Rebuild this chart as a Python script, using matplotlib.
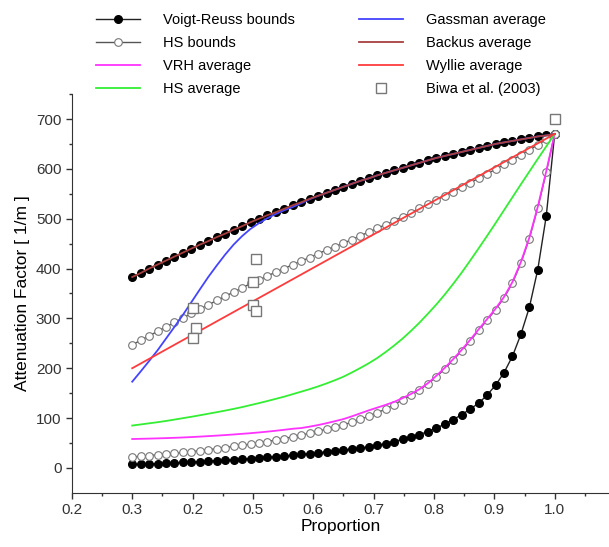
import numpy as np
import matplotlib.pyplot as plt

plt.rcParams['font.family'] = ['Liberation Sans', 'DejaVu Sans']

# proportion grid used by every curve (51 samples from 0.3 to 1.0)
x = np.linspace(0.3, 1.0, 51)

voigt = [383, 391, 400, 408, 416, 424, 432, 440, 448, 455, 463, 470, 478, 485, 493,
         500, 507, 513, 520, 527, 533, 540, 546, 552, 558, 564, 570, 576, 581, 587,
         592, 597, 602, 607, 612, 617, 622, 626, 630, 634, 638, 642, 646, 650, 653,
         656, 659, 662, 665, 667, 670]
reuss = [7, 7.5, 8, 8.7, 9.3, 10, 11, 12, 12.8, 13.6, 14.5, 15.5, 16.5, 17.6, 18.8,
         20, 21.2, 22.5, 24, 25.5, 27, 28.7, 30.5, 32.3, 34.2, 36, 38, 40, 42.5, 45.5,
         49, 53, 57.5, 62, 67, 73, 80, 88, 97, 107, 118, 130, 146, 166, 191,
         224, 268, 322, 398, 505, 670]
hs_upper = [247, 256, 265, 274, 283, 292, 301, 310, 319, 327, 336, 344, 353, 361, 370,
            377, 385, 393, 400, 408, 415, 422, 430, 437, 444, 451, 458, 466, 473, 481,
            488, 496, 504, 512, 521, 529, 537, 546, 554, 563, 572, 581, 590, 599, 609,
            618, 628, 638, 648, 659, 670]
hs_lower = [22, 23.4, 24.9, 26.3, 27.8, 29.4, 31, 32.7, 34.5, 36.6, 38.7, 40.9, 43.2, 45.5, 47.8,
            50.2, 53, 55.9, 59, 62.3, 65.9, 69.6, 73.6, 77.8, 82.2, 86.6, 91.5, 97.4, 103.7, 110.8,
            118, 127, 136.5, 146, 156.6, 168.6, 182.5, 199, 216.5, 235, 255, 276, 296.5, 317.5, 341,
            371, 411, 460, 522, 593, 670]
vrh = [58, 58.4, 58.8, 59.3, 59.8, 60.4, 61.1, 61.9, 62.8, 63.8, 64.8, 65.9, 67.1, 68.4, 69.7,
       71.2, 72.8, 74.6, 76.5, 78.6, 80, 82.8, 86, 89.7, 93.8, 98, 103.5, 109.5, 115.5, 121,
       126.5, 132.5, 140, 148.5, 158, 170, 185, 201, 218.5, 237, 257, 278, 298.5, 319.5, 343,
       373, 413, 462, 524, 595, 670]
hs_avg = [85, 87.2, 89.5, 91.7, 94.2, 97, 99.8, 102.6, 105.6, 108.7, 111.8, 115, 118.4, 122, 126,
          130, 134.2, 138.6, 143, 148, 153, 158, 163.5, 169.5, 176, 183, 191.5, 200.5, 210, 220.5,
          232.5, 245.5, 259.5, 275, 291.5, 309.5, 328, 348, 369.5, 392, 416, 440.5, 465.5, 491, 517,
          543, 569, 594.5, 620, 645, 670]
gassman = [173, 193.5, 214.5, 236, 259.5, 283, 307, 332.5, 358, 383, 406, 428, 448, 465, 479.5,
           491, 501, 509.5, 517, 523.5, 531, 539, 546, 552, 558, 564, 570, 576, 581, 587,
           592, 597, 602, 607, 612, 617, 622, 626, 630, 634, 638, 642, 646, 650, 653,
           656, 659, 662, 665, 667, 670]
backus = voigt
wyllie_x = [0.3, 1.0]
wyllie = [200, 670]

biwa_x = [0.40, 0.405, 0.40, 0.505, 0.50, 0.50, 0.505, 1.0]
biwa_y = [320, 281, 260, 420, 372, 326, 314, 700]

xtick_pos = [0.2, 0.3, 0.4, 0.5, 0.6, 0.7, 0.8, 0.9, 1.0]
xtick_labels = ['0.2', '0.3', '0.2', '0.5', '0.6', '0.7', '0.8', '0.9', '1.0']

fig = plt.figure(figsize=(6.09, 5.47), dpi=100)
ax = fig.add_axes([0.118, 0.099, 0.882, 0.729])

ax.plot(x, voigt, color='#222222', lw=1, marker='o', ms=5.5, mfc='black', mec='black',
        label='Voigt-Reuss bounds')
ax.plot(x, reuss, color='#222222', lw=1, marker='o', ms=5.5, mfc='black', mec='black')
ax.plot(x, hs_upper, color='#555555', lw=1, marker='o', ms=5.5, mfc='white', mec='#777777',
        mew=0.8, label='HS bounds')
ax.plot(x, hs_lower, color='#555555', lw=1, marker='o', ms=5.5, mfc='white', mec='#777777',
        mew=0.8)
ax.plot(x, vrh, color='#ff33ff', lw=1.3, label='VRH average')
ax.plot(x, hs_avg, color='#33ee33', lw=1.3, label='HS average')
ax.plot(x, gassman, color='#4444ff', lw=1.3, label='Gassman average')
ax.plot(x, backus, color='#a84040', lw=1.3, label='Backus average')
ax.plot(wyllie_x, wyllie, color='#ff3b3b', lw=1.3, label='Wyllie average')
ax.plot(biwa_x, biwa_y, ls='none', marker='s', ms=6.5, mfc='white', mec='#777777', mew=1,
        label='Biwa et al. (2003)')

ax.set_xlim(0.2, 1.09)
ax.set_ylim(-50, 750)
ax.set_xticks(xtick_pos)
ax.set_xticklabels(xtick_labels)
ax.set_xticks(np.arange(0.25, 1.06, 0.1), minor=True)
ax.set_yticks(np.arange(0, 701, 100))
ax.set_yticks(np.arange(50, 751, 100), minor=True)
ax.tick_params(which='major', direction='out', length=4, width=1, labelsize=11, colors='#333333')
ax.tick_params(which='minor', direction='out', length=2.5, width=1, colors='#333333')
for s in ['top', 'right']:
    ax.spines[s].set_visible(False)
for s in ['left', 'bottom']:
    ax.spines[s].set_color('#333333')

ax.set_xlabel('Proportion', fontsize=12.5, labelpad=1)
ax.set_ylabel('Attenuation Factor [ 1/m ]', fontsize=12.5, labelpad=4)

ax.legend(ncol=2, loc='upper left', bbox_to_anchor=(0.034, 1.217), frameon=False,
          fontsize=10.5, handlelength=3.0, handletextpad=1.6, columnspacing=4.4,
          labelspacing=0.6, borderaxespad=0)

fig.savefig('out.png', dpi=100)
